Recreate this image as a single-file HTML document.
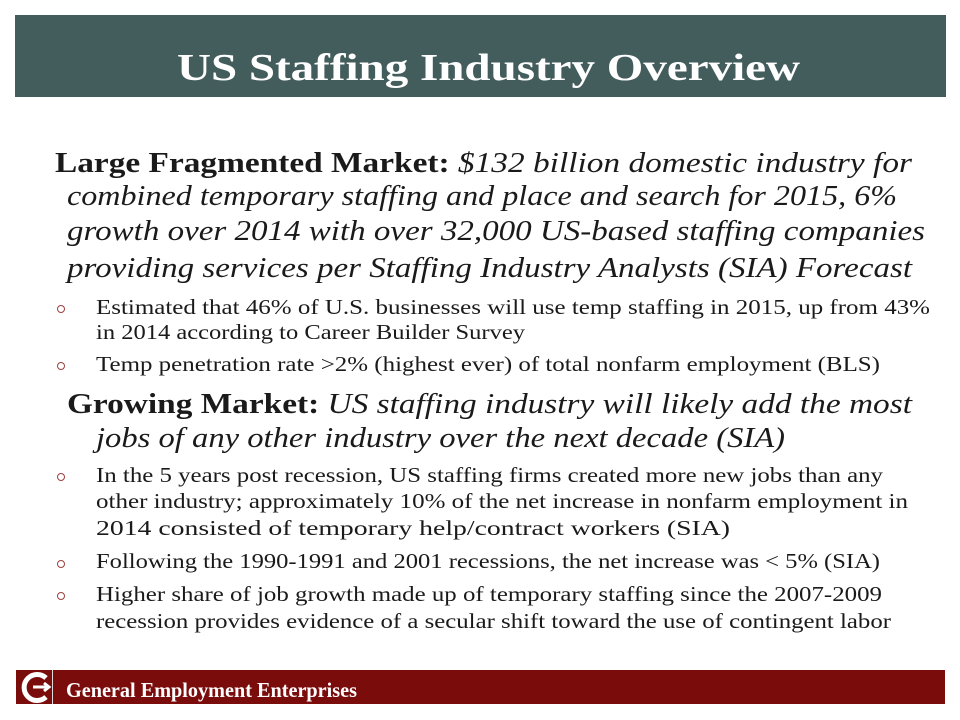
<!DOCTYPE html>
<html><head><meta charset="utf-8"><style>
html,body{margin:0;padding:0;background:#fff;width:960px;height:720px;overflow:hidden}
svg{display:block}
text{font-family:"Liberation Serif",serif;fill:#1a1a1a}
.h{font-size:28px}
.b{font-size:21px}
.bul{fill:none;stroke:#9a4040;stroke-width:1}
</style></head><body>
<svg width="960" height="720" viewBox="0 0 960 720" xmlns="http://www.w3.org/2000/svg">
<rect x="15" y="15" width="931" height="82" fill="#435d5c"/>
<text x="177" y="80" font-size="38" font-weight="bold" style="fill:#fff" textLength="623" lengthAdjust="spacingAndGlyphs">US Staffing Industry Overview</text>

<text class="h" x="55" y="172" textLength="857" lengthAdjust="spacingAndGlyphs"><tspan font-weight="bold">Large Fragmented Market: </tspan><tspan font-style="italic">$132 billion domestic industry for</tspan></text>
<text class="h" x="67" y="205" font-style="italic" textLength="830" lengthAdjust="spacingAndGlyphs">combined temporary staffing and place and search for 2015, 6%</text>
<text class="h" x="67" y="240" font-style="italic" textLength="858" lengthAdjust="spacingAndGlyphs">growth over 2014 with over 32,000 US-based staffing companies</text>
<text class="h" x="67" y="277" font-style="italic" textLength="845" lengthAdjust="spacingAndGlyphs">providing services per Staffing Industry Analysts (SIA) Forecast</text>

<circle class="bul" cx="61" cy="309" r="3.5"/>
<text class="b" x="96" y="314" textLength="834" lengthAdjust="spacingAndGlyphs">Estimated that 46%  of U.S. businesses will use temp staffing in 2015, up from 43%</text>
<text class="b" x="96" y="339" textLength="429" lengthAdjust="spacingAndGlyphs">in 2014 according to Career Builder Survey</text>
<circle class="bul" cx="61" cy="366" r="3.5"/>
<text class="b" x="96" y="371" textLength="784" lengthAdjust="spacingAndGlyphs">Temp penetration rate &gt;2% (highest ever) of total nonfarm employment (BLS)</text>

<text class="h" x="67" y="413" textLength="845" lengthAdjust="spacingAndGlyphs"><tspan font-weight="bold">Growing Market: </tspan><tspan font-style="italic">US staffing industry will likely add the most</tspan></text>
<text class="h" x="96" y="447" font-style="italic" textLength="689" lengthAdjust="spacingAndGlyphs">jobs of any other industry over the next decade (SIA)</text>

<circle class="bul" cx="61" cy="477" r="3.5"/>
<text class="b" x="96" y="482" textLength="787" lengthAdjust="spacingAndGlyphs">In the 5 years post recession, US staffing firms created more new jobs than any</text>
<text class="b" x="96" y="508" textLength="812" lengthAdjust="spacingAndGlyphs">other industry; approximately 10% of the net increase in nonfarm employment in</text>
<text class="b" x="96" y="535" textLength="634" lengthAdjust="spacingAndGlyphs">2014 consisted of  temporary help/contract workers (SIA)</text>
<circle class="bul" cx="61" cy="564" r="3.5"/>
<text class="b" x="96" y="568" textLength="784" lengthAdjust="spacingAndGlyphs">Following the 1990-1991 and 2001 recessions, the net increase was &lt; 5% (SIA)</text>
<circle class="bul" cx="61" cy="596" r="3.5"/>
<text class="b" x="96" y="601" textLength="786" lengthAdjust="spacingAndGlyphs">Higher share of job growth made up of temporary staffing since the 2007-2009</text>
<text class="b" x="96" y="628" textLength="795" lengthAdjust="spacingAndGlyphs">recession provides evidence of a secular shift toward the use of contingent labor</text>

<rect x="15" y="670" width="930" height="34" fill="#7a0c0c"/>
<line x1="15.5" y1="670" x2="15.5" y2="704" stroke="#fff"/>
<line x1="52.5" y1="670" x2="52.5" y2="704" stroke="#ddd"/>
<path d="M46 678 A13 13 0 1 0 46 697" fill="none" stroke="#fff" stroke-width="5"/>
<path d="M33 687 H48 M44 683 L49 687 L44 691" fill="none" stroke="#fff" stroke-width="3"/>
<text x="66" y="697" font-size="21" font-weight="bold" style="fill:#fff" textLength="291" lengthAdjust="spacingAndGlyphs">General Employment  Enterprises</text>
</svg>
</body></html>
